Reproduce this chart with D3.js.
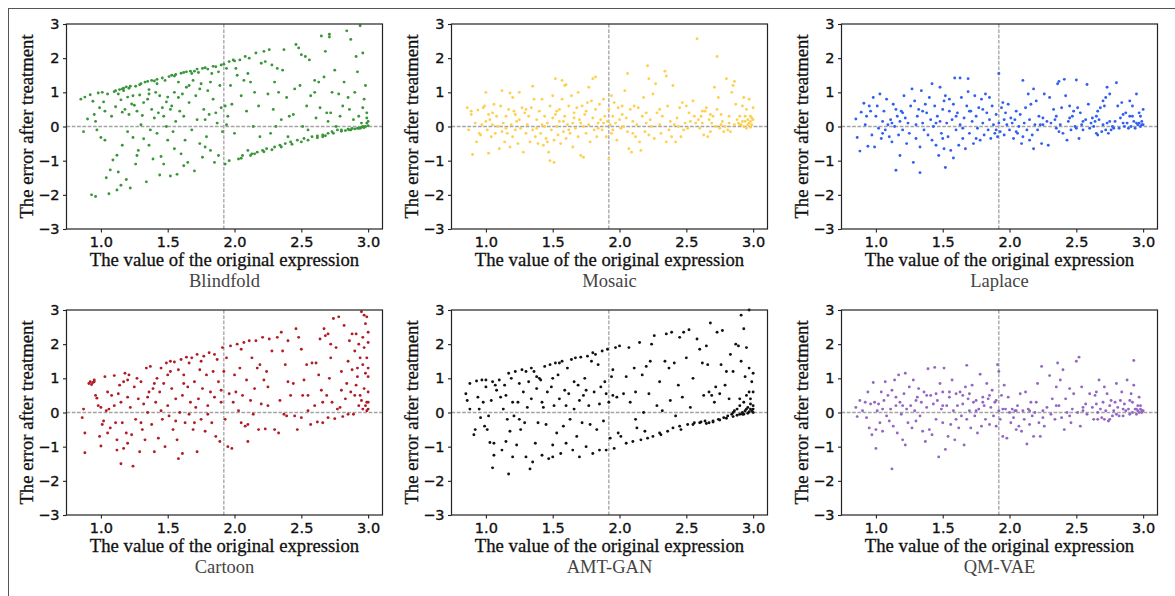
<!DOCTYPE html>
<html><head><meta charset="utf-8">
<script src="https://cdn.jsdelivr.net/npm/d3@7"></script>
<style>body{margin:0;background:#fff}svg{display:block}</style>
</head><body><svg id="c" width="1175" height="596"></svg>
<script>
const panelNames = ["Blindfold","Mosaic","Laplace","Cartoon","AMT-GAN","QM-VAE"];
const panelColors = ["#3a963a","#ffcf4f","#3160f0","#b01d25","#111111","#9466c4"];
const xTicks = [1.0,1.5,2.0,2.5,3.0];
const yTicks = [-3,-2,-1,0,1,2,3];
const xLabel = "The value of the original expression";
const yLabel = "The error after treatment";
const meanX = 1.92;

const blindfold = [[0.85,0.8],[0.87,-0.15],[0.88,0.86],[0.9,0.22],[0.92,0.93],[0.93,-2.0],[0.94,0.74],[0.95,0.35],[0.96,-2.05],[0.96,0.15],[0.97,-0.1],[0.98,0.98],[0.99,0.55],[1.0,-0.32],[1.01,1.0],[1.02,0.72],[1.03,0.45],[1.03,-0.4],[1.04,-1.5],[1.05,0.95],[1.06,-1.97],[1.07,-1.27],[1.08,0.3],[1.09,-0.98],[1.1,1.02],[1.11,0.58],[1.12,-0.84],[1.12,-1.86],[1.13,-1.33],[1.14,1.08],[1.15,-1.72],[1.15,0.78],[1.16,0.42],[1.17,1.12],[1.17,1.05],[1.18,0.5],[1.19,1.16],[1.19,-1.55],[1.2,-0.15],[1.2,0.86],[1.21,1.12],[1.21,0.35],[1.22,-1.8],[1.23,0.66],[1.24,-0.32],[1.25,0.62],[1.26,1.18],[1.27,-0.85],[1.28,-0.7],[1.29,0.92],[1.29,1.22],[1.3,0.05],[1.31,0.32],[1.32,-0.36],[1.33,1.3],[1.34,-1.62],[1.35,0.8],[1.35,1.32],[1.36,1.08],[1.37,-0.1],[1.38,0.5],[1.38,1.35],[1.39,-0.95],[1.4,0.25],[1.41,1.0],[1.42,1.25],[1.42,1.38],[1.43,0.4],[1.44,-1.42],[1.45,-0.88],[1.46,0.55],[1.46,1.42],[1.47,-1.1],[1.48,1.35],[1.49,0.0],[1.49,0.72],[1.5,-0.4],[1.5,0.86],[1.51,1.46],[1.52,-1.45],[1.53,0.6],[1.53,1.5],[1.54,-0.15],[1.55,1.0],[1.56,0.15],[1.56,1.52],[1.57,-1.4],[1.58,1.3],[1.59,0.45],[1.6,-0.8],[1.6,1.56],[1.61,0.95],[1.62,0.3],[1.63,-0.4],[1.64,1.15],[1.64,1.6],[1.65,-1.05],[1.66,0.7],[1.67,1.62],[1.68,-0.1],[1.68,1.55],[1.69,1.35],[1.7,-1.3],[1.71,0.9],[1.72,0.2],[1.72,1.68],[1.73,1.58],[1.74,-0.5],[1.75,1.25],[1.76,-0.9],[1.76,1.7],[1.77,0.5],[1.78,1.72],[1.79,-0.3],[1.8,1.05],[1.8,1.68],[1.81,0.35],[1.82,-0.7],[1.83,1.55],[1.84,0.8],[1.84,1.76],[1.85,-1.05],[1.86,1.75],[1.87,0.1],[1.88,-0.85],[1.89,1.2],[1.9,0.55],[1.9,1.8],[1.91,-0.15],[1.92,1.82],[1.93,-1.1],[1.94,1.7],[1.94,0.05],[1.95,0.3],[1.96,-1.0],[1.96,1.9],[1.97,1.2],[1.98,0.65],[1.99,1.95],[2.0,-0.2],[2.0,1.92],[2.02,1.5],[2.03,-0.95],[2.04,1.95],[2.05,0.9],[2.06,-0.85],[2.07,1.35],[2.08,2.05],[2.09,0.45],[2.1,-0.7],[2.11,2.0],[2.12,1.3],[2.13,-0.8],[2.14,0.0],[2.15,1.0],[2.16,2.15],[2.17,-0.75],[2.18,0.6],[2.19,-0.3],[2.2,1.85],[2.21,-0.7],[2.22,2.2],[2.23,1.9],[2.24,-0.65],[2.25,0.95],[2.26,2.25],[2.27,-0.2],[2.28,1.8],[2.29,0.5],[2.3,-0.6],[2.31,0.0],[2.32,1.7],[2.33,1.0],[2.34,-0.55],[2.35,0.2],[2.36,1.65],[2.37,2.25],[2.38,-0.5],[2.39,0.85],[2.4,-0.3],[2.41,0.3],[2.42,-0.45],[2.44,0.35],[2.45,1.1],[2.46,2.4],[2.47,-0.4],[2.48,2.3],[2.49,1.2],[2.5,2.1],[2.51,0.0],[2.52,-0.35],[2.53,2.05],[2.54,0.6],[2.55,-0.1],[2.56,1.95],[2.57,0.9],[2.58,-0.3],[2.6,1.35],[2.61,0.25],[2.62,-0.28],[2.63,1.3],[2.64,0.55],[2.65,2.65],[2.66,-0.25],[2.66,-0.3],[2.67,1.45],[2.68,2.2],[2.69,0.4],[2.7,-0.2],[2.71,2.7],[2.71,2.62],[2.72,0.4],[2.73,-0.15],[2.73,1.0],[2.75,1.65],[2.76,0.0],[2.77,-0.1],[2.78,0.95],[2.79,0.3],[2.8,-0.1],[2.81,0.6],[2.82,1.3],[2.83,-0.12],[2.84,2.8],[2.85,-0.08],[2.86,0.5],[2.87,2.55],[2.87,-0.1],[2.88,-0.06],[2.89,0.2],[2.9,1.0],[2.91,2.05],[2.92,-0.05],[2.93,0.3],[2.94,2.95],[2.94,-0.05],[2.95,-0.03],[2.95,0.1],[2.96,2.15],[2.96,0.0],[2.97,0.8],[2.97,-0.02],[2.98,0.0],[2.98,1.2],[2.99,0.25],[2.99,0.4],[3.0,0.02],[3.0,0.15],[2.05,-0.93],[2.12,-0.85],[2.15,-0.8],[2.22,-0.74],[2.28,-0.68],[2.35,-0.6],[2.43,-0.52],[2.5,-0.45],[2.55,-0.4],[2.62,-0.33],[2.68,-0.27],[2.74,-0.2],[2.8,-0.14],[2.86,-0.1],[2.9,-0.07],[2.93,-0.05],[2.97,-0.03],[1.11,1.05],[1.13,0.95],[1.16,1.1],[1.22,1.18],[1.24,0.9],[1.27,0.45],[1.3,1.25],[1.32,0.7],[1.36,0.95],[1.4,1.33],[1.44,0.9],[1.47,0.3],[1.52,0.5],[1.55,1.48],[1.58,0.85],[1.62,1.58],[1.66,1.2],[1.7,1.62],[1.74,1.1],[1.78,0.2],[1.82,1.3],[1.86,0.4],[1.88,1.6],[1.16,-0.55],[1.26,-1.1],[1.36,-0.55],[1.42,-0.2],[1.55,-0.65],[1.62,-1.15],[1.78,-0.6],[1.93,0.6],[2.01,1.7],[2.1,1.55],[2.3,1.3],[2.6,1.0],[2.85,0.85],[2.92,1.6],[2.99,0.1],[2.96,0.55],[2.7,0.15]];

const mosaic = [[0.86,0.55],[0.87,-0.1],[0.89,0.45],[0.89,0.35],[0.9,-0.82],[0.92,0.1],[0.93,-0.45],[0.94,0.48],[0.95,-0.2],[0.96,-0.25],[0.97,0.05],[0.98,0.55],[0.99,0.6],[1.0,1.0],[1.0,0.15],[1.01,-0.1],[1.02,0.35],[1.02,-0.78],[1.03,0.2],[1.04,-0.3],[1.05,0.05],[1.06,0.65],[1.07,-0.2],[1.08,0.3],[1.09,0.0],[1.1,-0.65],[1.11,0.6],[1.12,1.05],[1.12,-0.15],[1.13,0.1],[1.14,-0.45],[1.15,0.3],[1.16,-0.2],[1.17,0.5],[1.18,0.98],[1.18,-0.6],[1.19,0.05],[1.2,0.85],[1.2,-0.3],[1.21,0.45],[1.22,-0.1],[1.23,0.15],[1.24,-0.5],[1.25,1.0],[1.25,0.2],[1.26,-0.05],[1.27,0.55],[1.28,-0.75],[1.29,0.4],[1.3,-0.2],[1.31,0.05],[1.32,0.3],[1.33,-0.45],[1.34,0.55],[1.35,1.18],[1.35,-0.1],[1.36,0.8],[1.37,-0.3],[1.38,0.2],[1.39,-0.5],[1.4,0.45],[1.41,-0.2],[1.42,0.05],[1.42,0.8],[1.43,-0.55],[1.44,0.3],[1.45,-0.35],[1.46,0.1],[1.47,-0.75],[1.48,-1.0],[1.48,0.6],[1.49,-0.1],[1.5,0.9],[1.5,0.25],[1.51,-1.05],[1.51,-0.4],[1.52,1.4],[1.52,0.35],[1.53,0.0],[1.54,-0.25],[1.55,0.5],[1.55,0.15],[1.56,-0.5],[1.57,1.35],[1.57,0.8],[1.58,-0.15],[1.59,1.2],[1.59,0.3],[1.6,1.22],[1.6,-0.35],[1.61,0.05],[1.62,0.6],[1.63,-0.2],[1.64,0.9],[1.65,0.1],[1.65,-0.6],[1.66,0.4],[1.67,-0.05],[1.68,0.55],[1.69,1.0],[1.69,-0.3],[1.7,0.2],[1.71,-0.85],[1.72,0.6],[1.73,-0.9],[1.73,0.0],[1.74,0.35],[1.75,-0.2],[1.76,0.7],[1.77,1.15],[1.77,0.05],[1.78,-0.45],[1.79,0.75],[1.8,1.4],[1.8,0.25],[1.81,-0.1],[1.82,1.45],[1.82,0.5],[1.83,-0.3],[1.84,0.1],[1.85,0.65],[1.86,0.2],[1.87,-0.1],[1.88,0.8],[1.89,0.3],[1.9,-0.3],[1.91,0.15],[1.92,-0.95],[1.92,0.5],[1.93,0.05],[1.94,0.9],[1.94,-0.2],[1.95,0.3],[1.96,0.7],[1.97,0.1],[1.98,-0.4],[1.99,0.55],[2.0,0.2],[2.01,-0.05],[2.02,0.35],[2.03,0.0],[2.04,1.05],[2.05,0.25],[2.06,1.55],[2.06,-0.15],[2.07,-0.65],[2.08,0.5],[2.09,-0.75],[2.1,0.15],[2.11,0.6],[2.12,-0.3],[2.13,0.05],[2.14,0.55],[2.15,-0.45],[2.16,-0.7],[2.17,0.3],[2.18,0.85],[2.19,-0.15],[2.2,0.1],[2.21,1.78],[2.22,1.4],[2.22,-0.25],[2.23,0.2],[2.24,0.0],[2.25,0.95],[2.26,-0.35],[2.27,1.25],[2.28,0.4],[2.3,0.05],[2.31,-0.2],[2.32,0.3],[2.34,1.62],[2.35,1.48],[2.35,-0.45],[2.36,0.6],[2.37,-0.1],[2.38,0.15],[2.39,-0.3],[2.4,1.2],[2.41,0.05],[2.42,-0.45],[2.43,0.25],[2.45,0.55],[2.46,-0.3],[2.47,0.7],[2.48,-0.1],[2.49,0.1],[2.5,0.6],[2.51,-0.05],[2.53,0.15],[2.55,0.75],[2.56,0.3],[2.57,0.1],[2.58,2.57],[2.59,0.2],[2.6,-0.05],[2.61,0.3],[2.62,0.1],[2.63,-0.25],[2.64,0.45],[2.65,0.55],[2.66,-0.3],[2.67,0.2],[2.68,-0.15],[2.69,0.1],[2.7,0.3],[2.71,1.15],[2.72,0.0],[2.73,2.05],[2.73,0.5],[2.74,0.85],[2.75,-0.05],[2.76,0.35],[2.77,0.15],[2.78,-0.15],[2.79,0.0],[2.8,1.4],[2.81,-0.1],[2.82,0.1],[2.83,-0.15],[2.84,1.0],[2.85,1.2],[2.86,1.32],[2.86,0.05],[2.87,0.65],[2.88,0.2],[2.89,0.1],[2.9,0.3],[2.91,0.05],[2.92,0.6],[2.93,0.85],[2.93,0.0],[2.94,0.15],[2.95,0.5],[2.95,-0.05],[2.96,0.2],[2.96,0.05],[2.97,0.8],[2.97,0.1],[2.98,0.15],[2.98,-0.02],[2.99,0.25],[2.99,0.05],[3.0,0.55],[3.0,0.2],[1.05,0.4],[1.15,-0.05],[1.22,0.35],[1.3,0.5],[1.38,-0.05],[1.44,0.0],[1.46,-0.45],[1.53,0.45],[1.58,0.15],[1.62,-0.1],[1.66,0.25],[1.71,0.1],[1.75,0.45],[1.84,-0.05],[1.88,0.1],[1.95,-0.1],[2.02,0.6],[2.1,-0.2],[2.2,0.4],[2.3,0.5],[2.44,0.0],[2.52,0.4],[2.62,0.45],[2.68,0.35],[2.76,0.05],[2.82,0.3],[2.9,0.05],[2.94,0.3],[2.98,0.3],[2.92,0.15]];

const laplace = [[0.85,0.22],[0.86,-0.32],[0.88,-0.72],[0.89,0.42],[0.91,0.68],[0.92,0.05],[0.93,0.3],[0.94,-0.58],[0.95,0.6],[0.96,0.45],[0.97,-0.25],[0.98,0.85],[0.99,-0.6],[1.0,0.3],[1.01,0.6],[1.02,-0.05],[1.03,0.95],[1.04,-0.35],[1.05,0.15],[1.06,0.45],[1.07,-0.1],[1.08,0.8],[1.09,0.05],[1.1,-0.3],[1.11,0.2],[1.12,-0.45],[1.13,0.65],[1.14,0.0],[1.15,-1.28],[1.15,0.5],[1.16,0.3],[1.17,-0.25],[1.18,-0.85],[1.18,0.15],[1.19,0.45],[1.2,-0.1],[1.21,0.9],[1.22,0.25],[1.23,-0.5],[1.24,0.1],[1.25,-0.2],[1.26,0.6],[1.27,1.1],[1.28,-1.05],[1.29,0.75],[1.3,-0.35],[1.31,0.3],[1.32,0.5],[1.33,-1.35],[1.33,-0.6],[1.34,1.05],[1.35,0.1],[1.36,-0.1],[1.37,0.65],[1.38,0.4],[1.39,-0.25],[1.4,0.85],[1.41,0.2],[1.42,1.25],[1.42,-0.4],[1.43,0.0],[1.44,0.6],[1.45,-0.55],[1.46,0.3],[1.47,-0.85],[1.48,1.15],[1.48,0.15],[1.49,-0.2],[1.5,0.5],[1.51,0.75],[1.51,-0.65],[1.52,-1.2],[1.52,0.9],[1.53,0.1],[1.54,-0.3],[1.55,0.45],[1.56,-0.7],[1.57,0.2],[1.58,-0.92],[1.58,0.65],[1.59,1.42],[1.6,-0.1],[1.61,0.4],[1.62,-0.55],[1.63,1.42],[1.63,0.05],[1.64,0.85],[1.65,-0.35],[1.66,0.25],[1.67,-0.65],[1.68,0.6],[1.69,1.4],[1.69,1.02],[1.7,-0.2],[1.71,0.45],[1.72,0.15],[1.73,-0.5],[1.74,0.9],[1.75,0.3],[1.76,-0.05],[1.77,0.55],[1.78,-0.4],[1.79,0.8],[1.8,0.1],[1.81,-0.25],[1.82,0.95],[1.83,0.4],[1.84,-0.1],[1.85,0.2],[1.86,-0.35],[1.87,0.6],[1.88,0.05],[1.89,-0.2],[1.9,0.35],[1.91,-0.3],[1.92,1.55],[1.92,0.1],[1.93,-0.15],[1.94,0.55],[1.95,0.7],[1.96,-0.25],[1.97,0.4],[1.98,0.05],[1.99,0.65],[2.0,-0.1],[2.01,0.25],[2.02,0.1],[2.03,-0.35],[2.04,0.2],[2.05,0.45],[2.06,-0.2],[2.07,0.0],[2.08,0.35],[2.09,-0.5],[2.1,1.35],[2.1,-0.3],[2.11,0.1],[2.12,0.55],[2.13,-0.1],[2.14,0.95],[2.15,0.2],[2.16,0.65],[2.17,-0.25],[2.18,1.1],[2.18,-0.65],[2.19,0.05],[2.2,0.75],[2.21,-0.1],[2.22,0.3],[2.23,0.05],[2.24,-0.5],[2.25,0.25],[2.26,0.95],[2.28,0.15],[2.29,-0.55],[2.3,0.85],[2.31,0.1],[2.33,0.5],[2.34,0.2],[2.35,0.3],[2.36,1.25],[2.37,-0.15],[2.37,1.32],[2.38,0.05],[2.39,0.55],[2.4,-0.2],[2.41,1.38],[2.42,0.9],[2.43,-0.4],[2.44,0.15],[2.45,0.6],[2.46,-0.1],[2.47,0.3],[2.48,0.45],[2.49,0.0],[2.5,1.36],[2.5,-0.05],[2.51,0.55],[2.52,-0.35],[2.53,0.4],[2.54,0.05],[2.55,0.15],[2.57,0.2],[2.58,1.23],[2.59,0.65],[2.6,-0.05],[2.61,0.1],[2.62,0.25],[2.63,0.0],[2.64,0.15],[2.65,-0.2],[2.66,0.45],[2.66,-0.25],[2.67,0.2],[2.68,0.55],[2.69,-0.15],[2.7,0.75],[2.7,0.05],[2.71,0.6],[2.72,-0.1],[2.72,0.85],[2.73,1.15],[2.73,0.1],[2.74,-0.2],[2.75,0.95],[2.76,-0.1],[2.77,0.0],[2.78,-0.05],[2.79,0.15],[2.8,1.28],[2.81,0.6],[2.82,-0.05],[2.83,0.25],[2.84,0.7],[2.85,0.35],[2.86,0.0],[2.87,0.4],[2.88,0.1],[2.89,-0.05],[2.9,0.75],[2.9,0.3],[2.91,0.0],[2.92,0.6],[2.93,0.15],[2.94,-0.05],[2.95,0.95],[2.95,0.1],[2.96,0.05],[2.97,0.4],[2.97,0.1],[2.98,0.0],[2.99,0.15],[2.99,0.05],[3.0,0.5],[3.0,0.05],[1.05,-0.2],[1.12,0.1],[1.2,0.4],[1.3,0.05],[1.35,0.45],[1.45,0.1],[1.5,-0.35],[1.55,0.8],[1.6,0.3],[1.65,-0.05],[1.7,0.45],[1.75,-0.35],[1.8,0.5],[1.85,0.85],[1.9,-0.1],[1.96,0.2],[2.05,-0.15],[2.15,-0.4],[2.25,0.05],[2.35,-0.05],[2.45,0.25],[2.55,-0.1],[2.65,0.3],[2.75,0.15],[2.85,0.1],[2.92,0.3],[2.98,0.3]];

const cartoon = [[0.86,-0.15],[0.87,0.1],[0.88,-0.6],[0.88,-1.18],[0.91,0.85],[0.92,0.9],[0.93,0.82],[0.94,0.88],[0.95,0.95],[0.96,0.5],[0.97,0.42],[0.98,0.2],[0.99,-0.7],[1.0,-0.98],[1.0,0.15],[1.01,-0.35],[1.02,-0.25],[1.03,1.05],[1.04,0.05],[1.05,0.6],[1.06,0.1],[1.07,-0.45],[1.08,0.5],[1.1,1.08],[1.11,-0.3],[1.12,-0.8],[1.12,-1.1],[1.13,0.55],[1.14,0.8],[1.15,-1.5],[1.15,0.3],[1.16,-0.3],[1.17,-1.05],[1.17,0.9],[1.18,1.15],[1.19,-0.6],[1.2,0.45],[1.2,-0.9],[1.21,1.1],[1.22,0.15],[1.23,-0.65],[1.24,-1.57],[1.25,0.75],[1.26,-0.2],[1.27,1.0],[1.28,0.4],[1.29,-1.15],[1.3,0.9],[1.31,-0.5],[1.32,0.25],[1.33,-0.8],[1.34,1.3],[1.35,0.0],[1.36,0.6],[1.37,1.35],[1.38,-0.35],[1.39,0.7],[1.4,-1.15],[1.41,0.3],[1.42,1.0],[1.43,-0.75],[1.44,0.6],[1.45,1.3],[1.46,-0.2],[1.47,0.85],[1.48,-1.0],[1.49,1.45],[1.5,0.2],[1.5,1.1],[1.51,-0.1],[1.52,1.5],[1.53,0.7],[1.54,-0.5],[1.55,1.48],[1.56,0.4],[1.57,-0.8],[1.58,-1.35],[1.58,1.25],[1.59,0.0],[1.6,1.55],[1.61,-1.2],[1.61,0.5],[1.62,1.1],[1.63,-0.3],[1.64,1.62],[1.65,0.75],[1.66,-0.05],[1.67,0.3],[1.68,1.6],[1.69,-0.5],[1.7,0.9],[1.71,0.15],[1.72,-1.15],[1.72,1.7],[1.73,0.4],[1.74,1.25],[1.75,-0.2],[1.76,0.7],[1.77,1.65],[1.78,-0.55],[1.79,1.1],[1.8,0.2],[1.81,1.75],[1.82,0.6],[1.83,-0.3],[1.84,1.2],[1.85,0.45],[1.86,-0.7],[1.87,1.55],[1.88,0.9],[1.89,-0.85],[1.9,0.3],[1.91,1.9],[1.92,1.2],[1.93,-0.2],[1.94,1.6],[1.95,-1.0],[1.96,0.55],[1.97,1.95],[1.98,-1.05],[1.99,0.3],[2.0,1.1],[2.01,0.6],[2.02,2.0],[2.03,0.05],[2.04,1.3],[2.05,-0.3],[2.06,0.5],[2.07,2.05],[2.08,-0.4],[2.09,0.95],[2.1,-0.85],[2.1,-0.35],[2.11,2.1],[2.12,0.35],[2.13,1.6],[2.14,-0.05],[2.16,2.1],[2.17,1.3],[2.18,-0.5],[2.19,1.4],[2.2,0.25],[2.21,2.2],[2.22,0.95],[2.23,-0.48],[2.24,1.2],[2.25,0.75],[2.26,2.15],[2.28,1.8],[2.3,-0.5],[2.32,2.2],[2.33,-0.6],[2.34,0.35],[2.35,2.35],[2.36,1.8],[2.37,-0.05],[2.38,1.4],[2.39,-0.1],[2.4,0.9],[2.42,0.5],[2.44,0.85],[2.45,-0.1],[2.46,2.45],[2.47,-0.5],[2.48,2.2],[2.5,1.85],[2.5,-0.15],[2.51,0.5],[2.52,0.95],[2.54,1.4],[2.55,0.05],[2.57,-0.35],[2.58,1.45],[2.6,0.2],[2.61,1.45],[2.62,-0.28],[2.63,1.1],[2.64,2.15],[2.65,0.65],[2.66,-0.3],[2.66,0.3],[2.67,2.45],[2.68,2.25],[2.69,0.5],[2.7,-0.15],[2.71,1.0],[2.72,1.6],[2.72,2.0],[2.73,0.3],[2.74,2.75],[2.75,-0.18],[2.76,1.9],[2.77,0.1],[2.78,2.8],[2.79,0.15],[2.8,1.2],[2.81,-0.12],[2.82,2.55],[2.83,0.4],[2.84,0.85],[2.85,1.5],[2.85,-0.05],[2.86,2.1],[2.87,0.6],[2.88,1.25],[2.89,-0.05],[2.9,1.8],[2.9,0.5],[2.91,2.3],[2.91,0.8],[2.92,1.05],[2.93,0.2],[2.93,2.0],[2.94,1.6],[2.95,2.95],[2.95,0.35],[2.96,1.4],[2.96,0.1],[2.97,2.85],[2.97,0.7],[2.97,1.9],[2.98,0.2],[2.98,1.15],[2.98,2.6],[2.99,0.05],[2.99,0.3],[2.99,2.8],[3.0,0.1],[3.0,0.6],[3.0,1.05],[3.0,2.35],[3.0,1.3],[3.0,2.05],[0.95,0.9],[1.05,-0.6],[1.1,0.2],[1.2,0.95],[1.3,-0.3],[1.35,0.45],[1.4,0.85],[1.45,0.05],[1.52,1.2],[1.56,-0.25],[1.62,0.85],[1.66,1.45],[1.7,-0.3],[1.75,1.5],[1.8,-0.05],[1.85,1.7],[1.9,0.65],[2.05,1.85],[2.15,0.7],[2.25,0.2],[2.4,2.1],[2.55,0.5],[2.7,2.3],[2.8,0.65],[2.88,2.3],[2.94,0.5],[2.99,1.6],[3.0,0.3],[2.96,2.2],[2.92,1.3]];

const amtgan = [[0.85,0.55],[0.86,0.35],[0.88,0.85],[0.88,0.1],[0.91,-0.65],[0.92,-0.5],[0.93,0.92],[0.94,0.45],[0.95,0.1],[0.96,-0.15],[0.97,0.95],[0.98,0.3],[0.99,-0.4],[1.0,0.95],[1.0,0.75],[1.01,-0.5],[1.02,-0.1],[1.03,-0.88],[1.04,0.35],[1.05,-1.62],[1.06,-0.9],[1.06,-1.25],[1.07,0.8],[1.08,0.65],[1.1,0.95],[1.11,0.45],[1.12,-1.1],[1.13,0.1],[1.14,0.8],[1.15,-0.85],[1.16,-0.2],[1.17,1.15],[1.17,-1.8],[1.18,-0.55],[1.19,1.0],[1.2,-1.3],[1.21,-0.1],[1.22,1.2],[1.23,-0.95],[1.24,0.3],[1.25,0.85],[1.26,-0.5],[1.27,1.25],[1.28,0.6],[1.29,-0.3],[1.3,-1.3],[1.31,0.15],[1.32,0.9],[1.33,-1.65],[1.34,1.3],[1.34,0.4],[1.35,-1.45],[1.36,1.2],[1.37,-0.9],[1.38,0.7],[1.39,-0.3],[1.4,1.0],[1.41,0.95],[1.42,-1.25],[1.43,0.15],[1.44,1.35],[1.45,-0.35],[1.46,0.6],[1.47,-1.35],[1.48,1.4],[1.49,0.75],[1.5,-1.3],[1.5,-0.95],[1.51,0.2],[1.52,1.45],[1.53,-0.6],[1.54,1.1],[1.55,0.4],[1.56,-1.2],[1.57,1.5],[1.58,-0.4],[1.59,0.65],[1.6,-0.9],[1.61,1.3],[1.62,0.55],[1.63,-0.2],[1.64,1.55],[1.65,-1.1],[1.66,0.1],[1.67,1.6],[1.68,-0.7],[1.69,0.8],[1.7,-1.3],[1.71,1.62],[1.72,-0.3],[1.73,0.5],[1.74,1.0],[1.75,-1.0],[1.76,1.65],[1.77,0.2],[1.78,-0.35],[1.79,1.5],[1.8,-1.2],[1.81,0.6],[1.82,1.7],[1.83,-0.5],[1.84,1.4],[1.85,-1.1],[1.86,0.75],[1.87,1.8],[1.88,-0.25],[1.89,0.9],[1.9,-1.1],[1.91,1.85],[1.92,0.3],[1.93,-0.75],[1.94,1.05],[1.95,0.5],[1.96,-1.05],[1.97,1.9],[1.98,0.45],[1.99,-0.6],[2.0,1.95],[2.01,-0.7],[2.03,0.55],[2.05,-0.9],[2.07,1.9],[2.08,0.3],[2.1,-0.85],[2.11,1.3],[2.12,0.6],[2.13,-0.45],[2.15,2.05],[2.16,-0.8],[2.17,1.1],[2.18,0.0],[2.19,-0.55],[2.2,1.35],[2.21,-0.75],[2.22,0.55],[2.23,1.5],[2.24,2.0],[2.25,-0.7],[2.26,2.25],[2.28,0.2],[2.3,0.9],[2.31,-0.65],[2.32,0.05],[2.34,1.5],[2.35,2.3],[2.36,-0.55],[2.37,1.3],[2.38,0.35],[2.39,2.35],[2.4,-0.45],[2.41,1.45],[2.42,-0.1],[2.44,0.8],[2.45,2.2],[2.46,-0.5],[2.47,0.45],[2.48,2.35],[2.5,1.6],[2.51,-0.35],[2.52,2.42],[2.53,0.15],[2.55,1.0],[2.56,-0.3],[2.58,2.15],[2.6,1.85],[2.61,-0.28],[2.62,1.45],[2.63,0.5],[2.64,-0.25],[2.65,1.95],[2.66,1.4],[2.67,-0.3],[2.67,0.6],[2.68,2.62],[2.69,0.5],[2.7,-0.25],[2.71,0.3],[2.72,0.75],[2.73,2.35],[2.74,-0.2],[2.75,0.55],[2.76,1.4],[2.77,2.4],[2.78,-0.15],[2.79,0.8],[2.8,1.2],[2.81,-0.1],[2.82,0.4],[2.83,1.7],[2.84,-0.05],[2.85,1.2],[2.86,0.05],[2.87,2.0],[2.88,0.1],[2.89,1.95],[2.9,-0.05],[2.9,0.2],[2.91,2.85],[2.91,1.5],[2.92,0.0],[2.93,0.3],[2.93,2.45],[2.94,1.05],[2.94,0.05],[2.95,0.5],[2.95,1.9],[2.96,0.15],[2.96,-0.02],[2.97,1.3],[2.97,0.6],[2.97,3.0],[2.98,0.1],[2.98,0.25],[2.99,0.9],[2.99,0.05],[3.0,0.2],[3.0,0.6],[3.0,0.0],[3.0,1.15],[2.65,-0.32],[2.7,-0.28],[2.75,-0.22],[2.8,-0.17],[2.85,-0.12],[2.88,-0.08],[2.92,-0.05],[1.05,0.9],[1.15,0.5],[1.2,0.3],[1.25,-0.2],[1.3,1.2],[1.38,1.05],[1.42,0.3],[1.5,1.0],[1.55,1.45],[1.6,0.2],[1.66,0.9],[1.7,0.35],[1.75,0.65],[1.8,1.75],[1.85,0.25],[1.9,0.55],[1.95,1.25],[2.05,1.05],[2.12,-0.2],[2.3,-0.6],[2.45,-0.4],[2.55,-0.35],[2.6,-0.3],[2.85,0.0],[2.9,0.4],[2.95,0.1],[2.98,0.4],[3.0,0.1],[2.93,-0.05],[2.97,0.02]];

const qmvae = [[0.85,0.15],[0.86,-0.12],[0.88,0.35],[0.9,0.05],[0.92,0.3],[0.93,-0.15],[0.94,0.6],[0.95,-0.45],[0.96,0.25],[0.97,-0.65],[0.98,0.88],[0.99,0.3],[1.0,-1.05],[1.0,-0.5],[1.01,0.05],[1.02,0.25],[1.03,-0.3],[1.04,0.6],[1.05,-0.55],[1.06,0.35],[1.07,0.9],[1.08,-0.1],[1.09,0.5],[1.1,-0.25],[1.11,0.1],[1.12,-1.65],[1.12,0.65],[1.13,-0.4],[1.14,0.95],[1.15,0.2],[1.16,-0.6],[1.17,1.1],[1.18,0.3],[1.19,-0.05],[1.2,-0.8],[1.21,0.55],[1.22,1.15],[1.22,-0.95],[1.23,0.1],[1.24,-0.3],[1.25,0.75],[1.26,0.2],[1.27,-0.45],[1.28,0.95],[1.29,0.05],[1.3,-0.25],[1.31,0.45],[1.32,0.7],[1.33,-0.1],[1.34,0.3],[1.35,-0.55],[1.36,0.6],[1.37,-0.85],[1.38,0.15],[1.39,1.28],[1.4,-0.5],[1.41,0.5],[1.42,-0.65],[1.43,0.25],[1.44,1.32],[1.45,-0.2],[1.46,0.35],[1.47,-1.3],[1.48,0.85],[1.49,0.1],[1.5,-0.3],[1.5,0.6],[1.51,1.3],[1.52,-1.08],[1.53,0.2],[1.54,-0.7],[1.55,0.45],[1.56,-0.35],[1.57,0.95],[1.58,0.05],[1.59,-0.8],[1.6,0.55],[1.61,0.2],[1.62,-0.45],[1.63,0.6],[1.64,-0.1],[1.65,0.25],[1.66,-0.95],[1.67,0.75],[1.68,1.38],[1.68,-0.2],[1.69,0.4],[1.7,0.05],[1.71,-0.45],[1.72,0.8],[1.73,0.3],[1.74,-0.1],[1.75,0.35],[1.76,-0.6],[1.77,0.1],[1.78,1.12],[1.79,-0.4],[1.8,0.45],[1.81,0.2],[1.82,-0.2],[1.83,0.85],[1.84,0.4],[1.85,-0.35],[1.86,0.15],[1.87,0.65],[1.88,-0.1],[1.89,0.3],[1.9,-0.4],[1.91,1.4],[1.92,1.2],[1.92,0.05],[1.93,-0.2],[1.94,0.5],[1.95,-0.7],[1.96,0.8],[1.97,0.1],[1.98,-0.75],[1.99,0.45],[2.0,0.0],[2.01,-0.3],[2.02,0.1],[2.03,-0.15],[2.04,0.05],[2.05,-0.5],[2.06,0.2],[2.07,-0.4],[2.08,0.55],[2.09,-0.55],[2.1,0.05],[2.11,-0.2],[2.12,0.6],[2.13,-0.92],[2.14,0.1],[2.15,-0.35],[2.16,0.3],[2.17,-0.1],[2.18,-0.7],[2.19,0.0],[2.2,0.3],[2.21,0.85],[2.22,-0.3],[2.23,-0.7],[2.24,1.35],[2.25,0.05],[2.26,-0.4],[2.28,0.15],[2.3,1.08],[2.31,-0.05],[2.32,0.4],[2.34,-0.2],[2.35,0.75],[2.36,1.45],[2.37,0.2],[2.38,0.95],[2.39,-0.15],[2.4,1.25],[2.41,-0.5],[2.42,0.4],[2.43,0.0],[2.45,0.7],[2.46,-0.3],[2.47,0.1],[2.48,0.55],[2.5,1.5],[2.51,0.0],[2.52,1.62],[2.53,-0.4],[2.54,0.75],[2.55,0.05],[2.57,0.25],[2.58,-0.05],[2.6,0.55],[2.62,0.15],[2.63,-0.2],[2.64,0.5],[2.65,0.6],[2.66,0.0],[2.66,-0.2],[2.67,0.95],[2.68,0.1],[2.69,-0.15],[2.7,0.3],[2.71,0.75],[2.71,-0.2],[2.72,0.05],[2.73,0.55],[2.74,-0.25],[2.75,0.2],[2.76,0.35],[2.77,-0.1],[2.78,0.05],[2.79,0.3],[2.8,0.85],[2.8,-0.05],[2.81,0.15],[2.82,-0.1],[2.83,0.35],[2.84,0.6],[2.85,-0.1],[2.86,0.25],[2.87,0.05],[2.88,0.95],[2.89,0.1],[2.9,-0.05],[2.9,0.35],[2.91,0.55],[2.92,0.0],[2.93,1.52],[2.93,0.8],[2.94,0.1],[2.95,-0.05],[2.96,0.2],[2.96,0.05],[2.97,0.45],[2.97,0.0],[2.98,0.1],[2.99,0.05],[2.99,0.0],[3.0,0.05],[1.05,0.1],[1.15,0.45],[1.2,0.2],[1.3,0.35],[1.38,0.5],[1.45,0.55],[1.5,0.2],[1.55,0.6],[1.6,-0.2],[1.65,0.5],[1.7,0.55],[1.75,0.05],[1.8,0.3],[1.85,0.5],[1.9,0.35],[1.95,0.1],[2.05,0.05],[2.15,0.05],[2.25,-0.15],[2.35,0.2],[2.45,-0.1],[2.55,0.15],[2.65,0.25],[2.75,-0.2],[2.85,0.1],[2.92,0.3],[2.98,0.2],[2.95,0.1]];

const panelData = [blindfold, mosaic, laplace, cartoon, amtgan, qmvae];

const svg = d3.select("#c");
svg.append("rect").attr("x",8.5).attr("y",8.5).attr("width",1200).attr("height",620)
  .attr("fill","none").attr("stroke","#555").attr("stroke-width",1);

const colLeft = [66.5, 451.5, 841.5];
const rowTop = [24, 310];
const W = 316, H = 205;
const serif = "'Liberation Serif','Times New Roman',serif";

panelData.forEach((pts, i) => {
  const col = i % 3, row = Math.floor(i / 3);
  const g = svg.append("g").attr("transform", `translate(${colLeft[col]},${rowTop[row]})`);
  const x = d3.scaleLinear().domain([0.7425, 3.1075]).range([0, W]);
  const y = d3.scaleLinear().domain([-3, 3]).range([H, 0]);

  g.append("line").attr("x1",0).attr("x2",W).attr("y1",y(0)).attr("y2",y(0))
    .attr("stroke","#a3a3a3").attr("stroke-width",1.3).attr("stroke-dasharray","3.7,1.6");
  g.append("line").attr("x1",x(meanX)).attr("x2",x(meanX)).attr("y1",0).attr("y2",H)
    .attr("stroke","#a3a3a3").attr("stroke-width",1.3).attr("stroke-dasharray","3.7,1.6");

  g.append("g").selectAll("circle").data(pts).join("circle")
    .attr("cx", d => x(d[0])).attr("cy", d => y(d[1])).attr("r", 1.45)
    .attr("fill", panelColors[i]);

  const xa = g.append("g").attr("transform", `translate(0,${H})`)
    .call(d3.axisBottom(x).tickValues(xTicks).tickFormat(d3.format(".1f")).tickSize(3.5).tickPadding(4));
  const ya = g.append("g")
    .call(d3.axisLeft(y).tickValues(yTicks).tickFormat(d => d < 0 ? "\u2212" + Math.abs(d) : d).tickSize(3.5).tickPadding(3.5));
  [xa, ya].forEach(a => {
    a.select(".domain").remove();
    a.selectAll("line").attr("stroke","#222").attr("stroke-width",1.1);
    a.selectAll("text").attr("font-family","'DejaVu Sans',sans-serif").attr("font-size",14.5)
      .attr("fill","#111").attr("stroke","#111").attr("stroke-width",0.35);
  });

  g.append("rect").attr("x",0).attr("y",0).attr("width",W).attr("height",H)
    .attr("fill","none").attr("stroke","#222").attr("stroke-width",1.2);

  g.append("text").attr("x", W/2).attr("y", H + 37).attr("text-anchor","middle")
    .attr("font-family", serif).attr("font-size", 18.7).attr("fill","#111")
    .attr("stroke","#111").attr("stroke-width",0.3).text(xLabel);
  g.append("text").attr("x", W/2).attr("y", H + 58).attr("text-anchor","middle")
    .attr("font-family", serif).attr("font-size", 18.5).attr("fill","#444").text(panelNames[i]);
  g.append("text").attr("transform", `translate(-34,${H/2}) rotate(-90)`).attr("text-anchor","middle")
    .attr("font-family", serif).attr("font-size", 18.7).attr("fill","#111")
    .attr("stroke","#111").attr("stroke-width",0.3).text(yLabel);
});
</script></body></html>
